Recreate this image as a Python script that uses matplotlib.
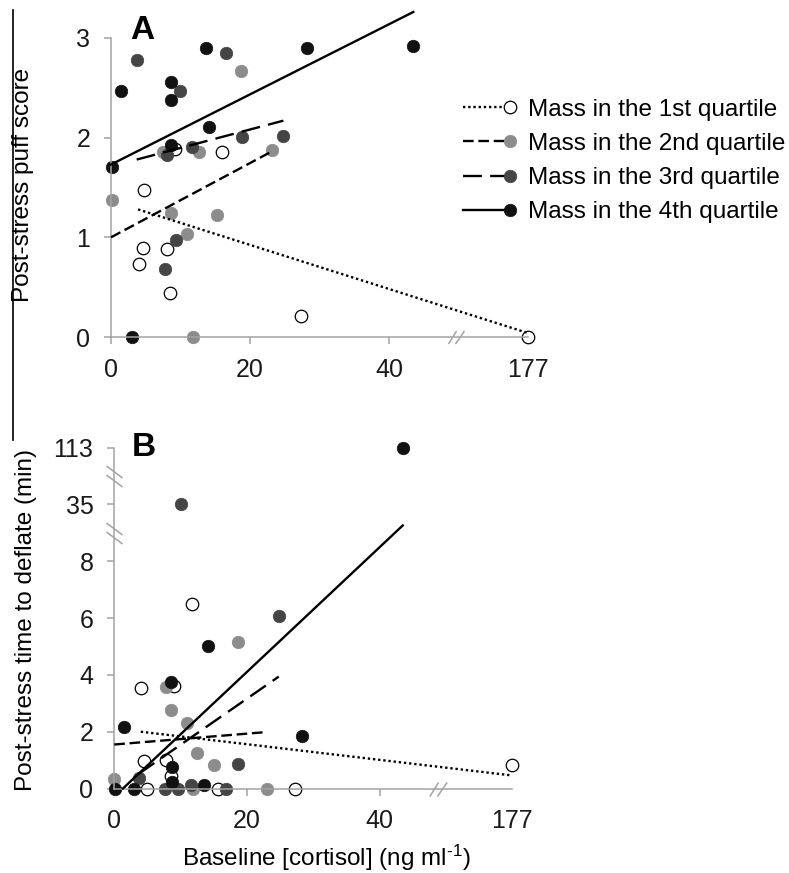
import numpy as np
import matplotlib.pyplot as plt
from matplotlib.lines import Line2D
from matplotlib.path import Path
from matplotlib.legend_handler import HandlerLine2D

plt.rcParams['font.family'] = ['Liberation Sans', 'DejaVu Sans']
plt.rcParams['mathtext.fontset'] = 'custom'
plt.rcParams['mathtext.rm'] = 'Liberation Sans'
plt.rcParams['mathtext.it'] = 'Liberation Sans:italic'

#Series names
series_names = ['Mass in the 1st quartile', 'Mass in the 2nd quartile',
                'Mass in the 3rd quartile', 'Mass in the 4th quartile']

#Panel A: post-stress puff score
a_q1_x = [4.8, 4.6, 8.0, 4.1, 8.5, 27.3, 15.9, 9.2, 177]
a_q1_y = [1.47, 0.89, 0.88, 0.73, 0.44, 0.21, 1.86, 1.89, 0.0]
a_q2_x = [0.2, 8.6, 15.2, 11.0, 11.8, 23.1, 12.6, 7.5, 18.7]
a_q2_y = [1.37, 1.24, 1.22, 1.03, 0.0, 1.88, 1.86, 1.86, 2.67]
a_q3_x = [3.7, 16.6, 9.9, 18.9, 24.7, 11.6, 8.0, 9.4, 7.7]
a_q3_y = [2.78, 2.85, 2.47, 2.01, 2.02, 1.91, 1.83, 0.97, 0.68]
a_q4_x = [1.4, 13.7, 28.2, 43.4, 8.6, 8.6, 14.1, 8.6, 0.2, 3.0]
a_q4_y = [2.47, 2.90, 2.90, 2.92, 2.56, 2.38, 2.11, 1.93, 1.71, 0.0]
#trend lines (x0, y0, x1, y1)
a_trends = [(3.9, 1.28, 177, 0.04), (0.0, 1.0, 23.1, 1.86),
            (3.7, 1.78, 24.8, 2.17), (0.0, 1.73, 43.5, 3.26)]

#Panel B: post-stress time to deflate (min)
b_q1_x = [11.7, 4.1, 9.0, 4.5, 7.8, 8.5, 4.9, 15.7, 27.3, 177]
b_q1_y = [6.5, 3.55, 3.6, 0.96, 1.02, 0.43, 0, 0, 0, 0.83]
b_q2_x = [18.6, 7.8, 8.6, 10.9, 12.5, 15.1, 0.0, 11.9, 23.0]
b_q2_y = [5.15, 3.57, 2.77, 2.30, 1.26, 0.84, 0.33, 0, 0]
b_q3_x = [10.1, 24.8, 18.7, 3.8, 11.6, 7.7, 9.6, 16.8]
b_q3_y = [35, 6.09, 0.87, 0.38, 0.14, 0, 0, 0]
b_q4_x = [43.5, 14.1, 8.6, 1.45, 28.3, 8.7, 8.7, 13.6, 0.1, 3.0]
b_q4_y = [113, 5.01, 3.74, 2.18, 1.84, 0.77, 0.22, 0.14, 0, 0]
#trend lines in plotted units (y end of 4th runs into the broken part)
b_trends = [(4.0, 2.0, 177, 0.46), (0.0, 1.55, 22.5, 1.98),
            (3.7, 0.52, 24.8, 3.94), (1.3, 0.0, 43.5, 9.26)]

#Broken axes: real value -> plotted position
x_ticks = [0, 20, 40, 177]
b_y_ticks = [0, 2, 4, 6, 8, 35, 113]

def xpos(v):
    return np.interp(v, [0, 48, 177], [0, 48, 60])

def ypos_b(v):
    return np.interp(v, [0, 8, 35, 113], [0, 8, 10, 12])

#styles
face = ['white', '#8c8c8c', '#454545', '#111111']
edge = ['black', '#8c8c8c', '#454545', '#111111']
dash = [(0, (1, 1.2)), (0, (4.5, 2)), (0, (8, 3.5)), '-']
axcol = '#a3a3a3'
W, H = 789, 873

fig = plt.figure(figsize=(W / 100, H / 100), dpi=100)
axA = fig.add_axes([97.1 / W, 1 - 352 / H, 444.8 / W, 349 / H])
axB = fig.add_axes([101.0 / W, 1 - 799.9 / H, 424.4 / W, 363.6 / H])


def slash_marker(segs):
    verts, codes = [], []
    for p0, p1 in segs:
        verts += [p0, p1]
        codes += [Path.MOVETO, Path.LINETO]
    return Path(verts, codes)

xbreak = slash_marker([((-8, -6.5), (0, 6.5)), ((-1, -6.5), (8, 6.5))])
ybreak = slash_marker([((-8, 10.5), (8, -1.5)), ((-8, 1.5), (8, -10.5))])


def style_axes(ax, ylim, ytop):
    ax.set_xlim(-2, 62)
    ax.set_ylim(*ylim)
    for s in ['top', 'right']:
        ax.spines[s].set_visible(False)
    for s in ['left', 'bottom']:
        ax.spines[s].set_position(('data', 0))
        ax.spines[s].set_color(axcol)
        ax.spines[s].set_linewidth(1.1)
    ax.spines['left'].set_bounds(0, ytop)
    ax.spines['bottom'].set_bounds(0, 60)
    ax.set_xticks(xpos(x_ticks))
    ax.set_xticklabels([str(t) for t in x_ticks])
    ax.tick_params(direction='out', length=5, width=1.1, color=axcol,
                   labelsize=18, pad=10, labelcolor='#1a1a1a')
    ax.xaxis.get_major_ticks()[-1].tick1line.set_visible(False)
    ax.patch.set_visible(False)


def draw_panel(ax, xs, ys, trends, yfun):
    for i in range(4):
        ax.plot(xpos(xs[i]), yfun(ys[i]), 'o', ms=9, mfc=face[i], mec=edge[i],
                mew=0.9 if i == 0 else 0.5, ls='none', zorder=2 + 0.1 * i, clip_on=False)
    for i, (x0, y0, x1, y1) in enumerate(trends):
        ax.plot(xpos([x0, x1]), [y0, y1], color='black', lw=1.7, ls=dash[i],
                zorder=3, clip_on=False)


#Panel A
style_axes(axA, (-0.15, 3.35), 3)
axA.set_yticks([0, 1, 2, 3])
draw_panel(axA, [a_q1_x, a_q2_x, a_q3_x, a_q4_x], [a_q1_y, a_q2_y, a_q3_y, a_q4_y],
           a_trends, lambda v: np.asarray(v, dtype=float))
axA.plot([49.6], [0], marker=xbreak, ms=11.5, mfc='none', mec=axcol, mew=1.1,
         ls='none', clip_on=False)

#Panel B
style_axes(axB, (-0.4, 12.4), 12)
axB.set_yticks(ypos_b(b_y_ticks))
axB.set_yticklabels([str(t) for t in b_y_ticks])
draw_panel(axB, [b_q1_x, b_q2_x, b_q3_x, b_q4_x], [b_q1_y, b_q2_y, b_q3_y, b_q4_y],
           b_trends, ypos_b)
axB.plot([48.8], [0], marker=xbreak, ms=12.5, mfc='none', mec=axcol, mew=1.1,
         ls='none', clip_on=False)
axB.plot([0, 0], [9, 11], marker=ybreak, ms=15.1, mfc='none', mec=axcol, mew=1.1,
         ls='none', clip_on=False)


#Legend with the marker at the right end of the sample line
class EndMarker(HandlerLine2D):
    def create_artists(self, *args, **kwargs):
        arts = super().create_artists(*args, **kwargs)
        arts[0].set_markevery([2])
        return arts

handles = [Line2D([], [], color='black', lw=1.7, ls=dash[i], marker='o', ms=9,
                  mfc=face[i], mec=edge[i], mew=0.9 if i == 0 else 0.5)
           for i in range(4)]
axA.legend(handles, series_names, loc='center left',
           bbox_to_anchor=(463 / W, 1 - 161 / H), bbox_transform=fig.transFigure,
           frameon=False, borderpad=0, borderaxespad=0, fontsize=17.5,
           handlelength=1.93, handletextpad=0.74, labelspacing=0.5, numpoints=1,
           handler_map={Line2D: EndMarker()})

#Texts
fig.text(130 / W, 1 - 39 / H, 'A', fontsize=24, fontweight='bold', ha='left', va='baseline')
fig.text(132 / W, 1 - 456 / H, 'B', fontsize=24, fontweight='bold', ha='left', va='baseline')
fig.text(23 / W, 1 - 185 / H, 'Post-stress puff score', rotation=90,
         ha='center', va='center', fontsize=17.5)
fig.text(26 / W, 1 - 620 / H, 'Post-stress time to deflate (min)', rotation=90,
         ha='center', va='center', fontsize=17.5)
fig.text(326 / W, 1 - 858 / H, r'Baseline [cortisol] (ng ml$^{\text{-1}}$)',
         ha='center', va='center', fontsize=17.5)

#Left border line
fig.add_artist(Line2D([13 / W, 13 / W], [1 - 10 / H, 1 - 440 / H], color='black', lw=1.2))

plt.savefig('out.png', dpi=100)
